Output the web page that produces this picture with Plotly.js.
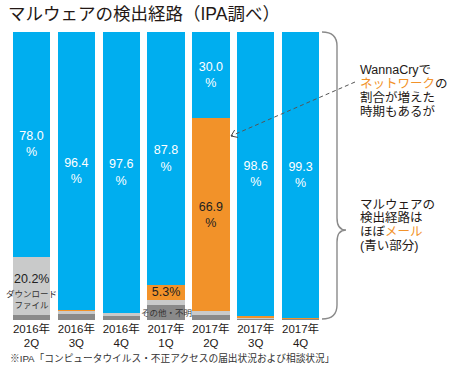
<!DOCTYPE html>
<html><head><meta charset="utf-8">
<script src="https://cdn.plot.ly/plotly-3.0.1.min.js"></script>
<style>html,body{margin:0;padding:0;background:#fff}#chart{width:450px;height:370px}</style>
</head><body><div id="chart"></div>
<script>
// ---- data ----
const categories = ['2016年<br>2Q','2016年<br>3Q','2016年<br>4Q','2017年<br>1Q','2017年<br>2Q','2017年<br>3Q','2017年<br>4Q'];
const mail     = [78.0, 96.4, 97.6, 87.8, 30.0, 98.6, 99.3];   // メール (blue)
const network  = [0.0, 0.4, 0.1, 5.3, 66.9, 0.6, 0.4];         // ネットワーク (orange)
const download = [20.2, 1.2, 0.8, 1.7, 1.2, 0.4, 0.0];         // ダウンロードファイル (light gray)
const other    = [1.8, 2.0, 1.5, 5.2, 1.9, 0.4, 0.3];          // その他・不明 (dark gray)
const mailLabels    = ['78.0<br>%','96.4<br>%','97.6<br>%','87.8<br>%','30.0<br>%','98.6<br>%','99.3<br>%'];
const networkLabels = ['','','','5.3%','66.9<br>%','',''];

const FONT = 'Liberation Sans, Arial, "Noto Sans CJK JP", sans-serif';
const C_BLUE = '#00AEEF', C_ORANGE = '#F29229', C_LGRAY = '#C9CACA', C_DGRAY = '#8A8A8A';

// plot area in pixels (for decorations)
const L = 4, R = 323, T = 32, B = 320;
const px = x => (x - L) / (R - L);
const py = y => (B - y) / (B - T);

function bar(y, color, name, text, tcolor) {
  return {type:'bar', x:categories, y:y, name:name, marker:{color:color, line:{width:0}},
    text:text, textposition: text ? 'inside' : 'none', insidetextanchor:'middle',
    constraintext:'none', textangle:0,
    textfont:{family:FONT, size:12.5, color:tcolor}, hoverinfo:'skip'};
}
const traces = [
  bar(other, C_DGRAY, 'その他・不明', null, '#222'),
  bar(download, C_LGRAY, 'ダウンロードファイル', null, '#222'),
  bar(network, C_ORANGE, 'ネットワーク', networkLabels, '#222'),
  bar(mail, C_BLUE, 'メール', mailLabels, '#fff')
];

// brace path
const bx = 337;
const brace = 'M ' + px(322) + ',' + py(32) +
  ' Q ' + px(bx) + ',' + py(32) + ' ' + px(bx) + ',' + py(46) +
  ' L ' + px(bx) + ',' + py(218) +
  ' Q ' + px(bx) + ',' + py(230) + ' ' + px(346) + ',' + py(230) +
  ' Q ' + px(bx) + ',' + py(230) + ' ' + px(bx) + ',' + py(242) +
  ' L ' + px(bx) + ',' + py(305) +
  ' Q ' + px(bx) + ',' + py(319) + ' ' + px(322) + ',' + py(319);

// arrow
const tail = [355, 82], tip = [231, 136];
const dx = tail[0]-tip[0], dy = tail[1]-tip[1], len = Math.hypot(dx, dy);
const ux = dx/len, uy = dy/len, a = 35*Math.PI/180, al = 7;
const arm1 = [tip[0] + al*(ux*Math.cos(a) - uy*Math.sin(a)), tip[1] + al*(ux*Math.sin(a) + uy*Math.cos(a))];
const arm2 = [tip[0] + al*(ux*Math.cos(a) + uy*Math.sin(a)), tip[1] + al*(-ux*Math.sin(a) + uy*Math.cos(a))];
const head = 'M ' + px(arm1[0]) + ',' + py(arm1[1]) + ' L ' + px(tip[0]) + ',' + py(tip[1]) + ' L ' + px(arm2[0]) + ',' + py(arm2[1]);

const shapes = [
  {type:'path', xref:'paper', yref:'paper', path:brace, line:{color:'#8a8a8a', width:1.4}},
  {type:'line', xref:'paper', yref:'paper', x0:px(tail[0]), y0:py(tail[1]), x1:px(tip[0]), y1:py(tip[1]),
    line:{color:'#555', width:1, dash:'4px,3px'}},
  {type:'path', xref:'paper', yref:'paper', path:head, line:{color:'#444', width:1}}
];

const rightFont = {family:FONT, size:12.5, color:'#231815'};
function rtxt(t, y){ return {xref:'paper', yref:'paper', x:px(358), y:py(y), xanchor:'left', yanchor:'middle',
  text:t, showarrow:false, font:rightFont, align:'left'}; }
const OR = s => '<span style="color:' + C_ORANGE + '">' + s + '</span>';

const annotations = [
  rtxt('WannaCryで', 70), rtxt(OR('ネットワーク') + 'の', 84), rtxt('割合が増えた', 97), rtxt('時期もあるが', 111),
  rtxt('マルウェアの', 205), rtxt('検出経路は', 218), rtxt('ほぼ' + OR('メール'), 232), rtxt('(青い部分)', 246),
  {x:categories[0], y:other[0] + download[0]*0.61, text:'20.2%', showarrow:false,
    font:{family:FONT, size:12.5, color:'#222'}},
  {x:categories[0], y:other[0] + download[0]*0.27, text:'ダウンロード<br>ファイル', showarrow:false,
    font:{family:FONT, size:8.5, color:'#333'}},
  {x:categories[3], y:other[3]*0.47, text:'その他・不明', showarrow:false,
    font:{family:FONT, size:8.5, color:'#333'}},
  {xref:'paper', yref:'paper', x:px(8), y:py(358), xanchor:'left', yanchor:'middle', showarrow:false,
    text:'※IPA「コンピュータウイルス・不正アクセスの届出状況および相談状況」',
    font:{family:FONT, size:9.7, color:'#333'}}
];

const layout = {
  width:450, height:370,
  margin:{l:L, r:450-R, t:T, b:370-B, pad:0},
  paper_bgcolor:'#fff', plot_bgcolor:'#fff',
  barmode:'stack', bargap:0.17, showlegend:false,
  title:{text:'マルウェアの検出経路（IPA調べ）', xref:'container', yref:'container', x:8/450, xanchor:'left',
    y:1-14/370, yanchor:'middle', font:{family:FONT, size:17.5, color:'#231815'}},
  xaxis:{type:'category', showgrid:false, showline:false, zeroline:false, ticks:'', automargin:false,
    tickfont:{family:FONT, size:11.5, color:'#231815'}, fixedrange:true},
  yaxis:{range:[0,100], visible:false, showgrid:false, zeroline:false, fixedrange:true, automargin:false},
  shapes:shapes, annotations:annotations,
  font:{family:FONT}
};
Plotly.newPlot('chart', traces, layout, {displayModeBar:false, staticPlot:true});
</script></body></html>
